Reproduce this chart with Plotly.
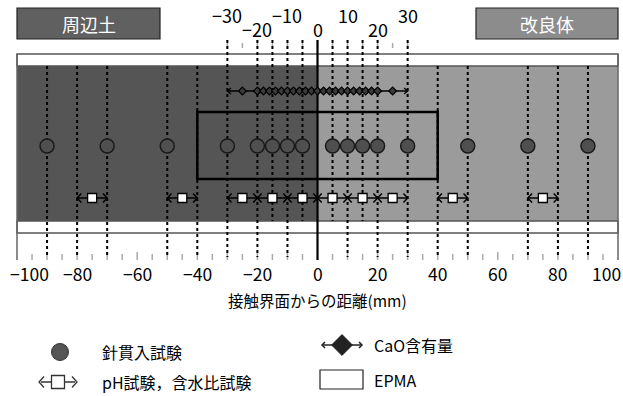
import plotly.graph_objects as go

# ---------------- data ----------------
needle_x = [-90, -70, -50, -30, -20, -15, -10, -5, 5, 10, 15, 20, 30, 50, 70, 90]
ph_centers = [-75, -45, -25, -15, -5, 5, 15, 25, 45, 75]
ph_half = 5
cao_x = [-25, -20, -18, -16, -14, -12, -10, -8, -6, -4, -2, 0, 2, 4, 6, 8, 10,
         12, 14, 16, 18, 20, 25]
cao_range = [-30, 30]
epma_range = [-40, 40]
bottom_labels = [-100, -80, -60, -40, -20, 0, 20, 40, 60, 80, 100]
top_labels = [-30, -20, -10, 0, 10, 20, 30]
bottom_ticks = [-95, -90, -85, -80, -75, -70, -65, -60, -55, -50, -45, -40, -35,
                -30, -25, -20, -15, -10, -5, 5, 10, 15, 20, 25, 30, 35, 40, 45,
                50, 55, 60, 65, 70, 75, 80, 85, 90, 95]
top_ticks = [-30, -25, -20, -15, -10, -5, 0, 5, 10, 15, 20, 25, 30]
x_title = "接触界面からの距離(mm)"
left_label = "周辺土"
right_label = "改良体"
legend_names = ["針貫入試験", "pH試験，含水比試験", "CaO含有量", "EPMA"]

# ---------------- layout geometry (pixels) ----------------
W, H = 623, 396
PX_L, PX_R = 17, 618
S = (PX_R - PX_L) / 200.0
XR = [-100 - PX_L / S, 100 + (W - PX_R) / S]
FONT = "Noto Sans CJK JP"

Y_TOPLAB_HI, Y_TOPLAB_LO = 15, 29
Y_TTICK0, Y_TTICK1 = 40, 48
Y_BAND_T0, Y_BAND_T1 = 54, 66
Y_REG0, Y_REG1 = 66, 221
Y_BAND_B0, Y_BAND_B1 = 221, 233
Y_BTICK0, Y_BTICK1 = 252, 260
Y_BLAB = 273
Y_CAO, Y_NEEDLE, Y_PH = 91, 146, 198
Y_EPMA0, Y_EPMA1 = 112, 179

DARK, LIGHT = "#555555", "#9b9b9b"

fig = go.Figure()
shapes = []
ann = []

# background regions
shapes.append(dict(type="rect", xref="x", yref="y", x0=-100, x1=0, y0=Y_REG0, y1=Y_REG1,
                   fillcolor=DARK, line=dict(width=0), layer="below"))
shapes.append(dict(type="rect", xref="x", yref="y", x0=0, x1=100, y0=Y_REG0, y1=Y_REG1,
                   fillcolor=LIGHT, line=dict(width=0), layer="below"))
for y0, y1 in [(Y_BAND_T0, Y_BAND_T1), (Y_BAND_B0, Y_BAND_B1)]:
    shapes.append(dict(type="rect", xref="x", yref="y", x0=-100, x1=100, y0=y0, y1=y1,
                       fillcolor="white", line=dict(color="#555", width=1.5), layer="below"))
# frame side lines
for xv in [-100, 100]:
    shapes.append(dict(type="line", xref="x", yref="y", x0=xv, x1=xv, y0=Y_BAND_T0, y1=Y_BTICK1,
                       line=dict(color="#666", width=1.5)))

# ticks
tx, ty = [], []
for v in top_ticks:
    tx += [v, v, None]
    ty += [Y_TTICK0 + (0 if v % 10 == 0 else 3), Y_TTICK1, None]
for v in bottom_ticks:
    tx += [v, v, None]
    ty += [Y_BTICK0 + (0 if v % 10 == 0 else 2), Y_BTICK1, None]
fig.add_trace(go.Scatter(x=tx, y=ty, mode="lines", line=dict(color="#aaaaaa", width=1.5),
                         hoverinfo="skip", showlegend=False))

# dashed guide lines
ph_edges = set()
for c in ph_centers:
    ph_edges.add(c - ph_half)
    ph_edges.add(c + ph_half)
guides = sorted((set(needle_x) | ph_edges) - {0})
gx, gy = [], []
for v in guides:
    top = Y_TTICK0 if abs(v) <= cao_range[1] else Y_REG0
    bot = Y_REG1 if (abs(v) <= 30 and v % 10 != 0) else Y_BTICK1 - 3
    gx += [v, v, None]
    gy += [top, bot, None]
fig.add_trace(go.Scatter(x=gx, y=gy, mode="lines", line=dict(color="black", width=2, dash="dot"),
                         hoverinfo="skip", showlegend=False))
# interface line
fig.add_trace(go.Scatter(x=[0, 0], y=[Y_TTICK0, Y_BTICK1], mode="lines",
                         line=dict(color="black", width=2.2), hoverinfo="skip", showlegend=False))

# EPMA box
shapes.append(dict(type="rect", xref="x", yref="y", x0=epma_range[0], x1=epma_range[1],
                   y0=Y_EPMA0, y1=Y_EPMA1, line=dict(color="black", width=2.5)))


def chevron(xt, y, d, dx, dy):
    return [xt - d * dx, xt, xt - d * dx, None], [y - dy, y, y + dy, None]


# CaO line
cx, cy = [cao_range[0], cao_range[1], None], [Y_CAO, Y_CAO, None]
for xt, d in [(cao_range[0], -1), (cao_range[1], 1)]:
    a, b = chevron(xt, Y_CAO, d, 1.2, 3)
    cx += a
    cy += b
fig.add_trace(go.Scatter(x=cx, y=cy, mode="lines", line=dict(color="black", width=1.3),
                         hoverinfo="skip", showlegend=False))
fig.add_trace(go.Scatter(x=cao_x, y=[Y_CAO] * len(cao_x), mode="markers",
                         marker=dict(symbol="diamond", size=6, color="#3a3a3a",
                                     line=dict(color="black", width=1.2)),
                         showlegend=False, hoverinfo="x"))

# needle penetration
fig.add_trace(go.Scatter(x=needle_x, y=[Y_NEEDLE] * len(needle_x), mode="markers",
                         marker=dict(symbol="circle", size=14, color="#4f4f4f",
                                     line=dict(color="#1a1a1a", width=1.5)),
                         showlegend=False, hoverinfo="x"))

# pH rows
px_, py_ = [], []
for c in ph_centers:
    px_ += [c - ph_half, c + ph_half, None]
    py_ += [Y_PH, Y_PH, None]
    for xt, d in [(c - ph_half, -1), (c + ph_half, 1)]:
        a, b = chevron(xt, Y_PH, d, 1.4, 4.5)
        px_ += a
        py_ += b
fig.add_trace(go.Scatter(x=px_, y=py_, mode="lines", line=dict(color="black", width=1.5),
                         hoverinfo="skip", showlegend=False))
fig.add_trace(go.Scatter(x=ph_centers, y=[Y_PH] * len(ph_centers), mode="markers",
                         marker=dict(symbol="square", size=9, color="white",
                                     line=dict(color="black", width=1.3)),
                         showlegend=False, hoverinfo="x"))

# tick labels
for v in bottom_labels:
    shift = 12 if v == min(bottom_labels) else (-12 if v == max(bottom_labels) else 0)
    ann.append(dict(x=v, y=Y_BLAB, xref="x", yref="y", text=str(v).replace("-", "\u2212"),
                    showarrow=False, xshift=shift, font=dict(size=17.5, color="black", family=FONT)))
for i, v in enumerate(top_labels):
    ann.append(dict(x=v, y=Y_TOPLAB_HI if i % 2 == 0 else Y_TOPLAB_LO, xref="x", yref="y",
                    text=str(v).replace("-", "\u2212"), showarrow=False,
                    font=dict(size=18, color="black", family=FONT)))
ann.append(dict(x=0, y=300, xref="x", yref="y", text=x_title, showarrow=False,
                font=dict(size=15.5, color="black", family=FONT)))

# ---------------- region labels & legend (pixel axis x2) ----------------
for (x0, x1, col, txt) in [(17, 160, "#606060", left_label), (476, 618, "#8c8c8c", right_label)]:
    shapes.append(dict(type="rect", xref="x2", yref="y", x0=x0, x1=x1, y0=8, y1=39,
                       fillcolor=col, line=dict(color="#222", width=1.2)))
    ann.append(dict(x=(x0 + x1) / 2, y=24, xref="x2", yref="y", text=txt, showarrow=False,
                    font=dict(size=18, color="white", family=FONT)))

fig.add_trace(go.Scatter(x=[60], y=[352], xaxis="x2", mode="markers",
                         marker=dict(symbol="circle", size=17, color="#555555",
                                     line=dict(color="#333", width=1)),
                         showlegend=False, hoverinfo="skip"))
lx, ly = [41, 75, None], [382, 382, None]
for xt, d in [(39, -1), (77, 1)]:
    a, b = chevron(xt, 382, d, 5, 5.5)
    lx += a
    ly += b
fig.add_trace(go.Scatter(x=lx, y=ly, xaxis="x2", mode="lines", line=dict(color="#333", width=1.3),
                         showlegend=False, hoverinfo="skip"))
fig.add_trace(go.Scatter(x=[58], y=[382], xaxis="x2", mode="markers",
                         marker=dict(symbol="square", size=13, color="white",
                                     line=dict(color="#333", width=1.3)),
                         showlegend=False, hoverinfo="skip"))
cxl, cyl = [323, 361, None], [345, 345, None]
for xt, d in [(322, -1), (362, 1)]:
    a, b = chevron(xt, 345, d, 3, 3)
    cxl += a
    cyl += b
fig.add_trace(go.Scatter(x=cxl, y=cyl, xaxis="x2", mode="lines", line=dict(color="#222", width=1.5),
                         showlegend=False, hoverinfo="skip"))
fig.add_trace(go.Scatter(x=[342], y=[345], xaxis="x2", mode="markers",
                         marker=dict(symbol="diamond", size=16, color="#222",
                                     line=dict(color="#222", width=1)),
                         showlegend=False, hoverinfo="skip"))
shapes.append(dict(type="rect", xref="x2", yref="y", x0=320, x1=363, y0=370, y1=389,
                   line=dict(color="#222", width=1.2)))
for (x, y, t) in [(100, 352, legend_names[0]), (100, 382, legend_names[1]),
                  (372, 345, legend_names[2]), (372, 380, legend_names[3])]:
    ann.append(dict(x=x, y=y, xref="x2", yref="y", text=t, showarrow=False, xanchor="left",
                    font=dict(size=16, color="black", family=FONT)))

fig.update_layout(
    width=W, height=H, margin=dict(l=0, r=0, t=0, b=0),
    paper_bgcolor="white", plot_bgcolor="white",
    xaxis=dict(range=XR, visible=False, fixedrange=True),
    xaxis2=dict(range=[0, W], visible=False, overlaying="x", fixedrange=True),
    yaxis=dict(range=[H, 0], visible=False, fixedrange=True),
    shapes=shapes, annotations=ann, showlegend=False,
    font=dict(family=FONT),
)
fig.write_html("out.html", config={"displayModeBar": False},
               post_script="document.body.style.margin='0';document.body.style.overflow='hidden';")
